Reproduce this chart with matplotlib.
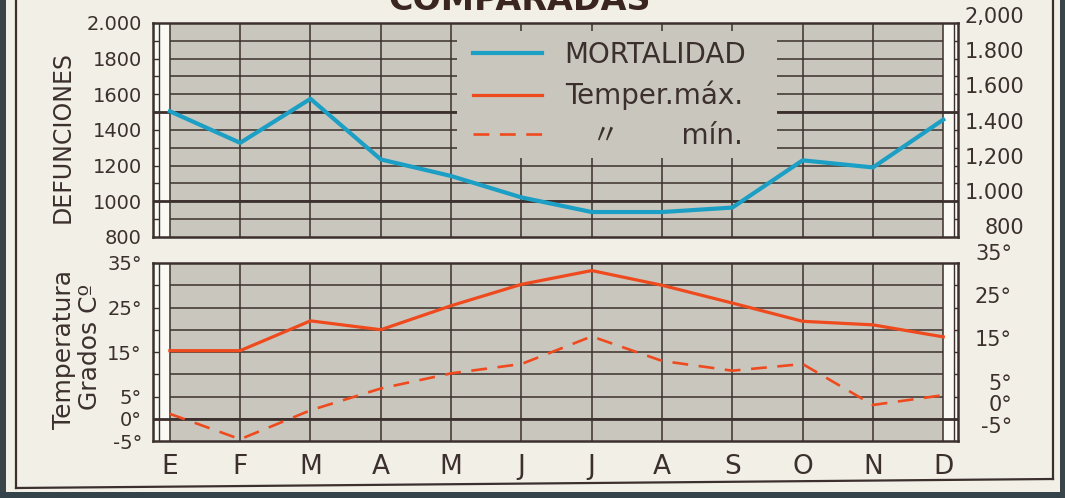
import matplotlib
matplotlib.use("Agg")
import numpy as np
import matplotlib.pyplot as plt
from matplotlib.lines import Line2D
from matplotlib.patches import Rectangle
from matplotlib.transforms import blended_transform_factory
from matplotlib.font_manager import FontProperties

# data
months = ["E", "F", "M", "A", "M", "J", "J", "A", "S", "O", "N", "D"]
mortalidad = [1505, 1328, 1575, 1235, 1142, 1022, 940, 940, 965, 1230, 1190, 1458]
temp_max = [15.3, 15.3, 22.0, 20.0, 25.4, 30.2, 33.3, 30.0, 26.0, 21.9, 21.1, 18.4]
temp_min = [1.1, -4.6, 1.9, 6.8, 10.2, 12.3, 18.5, 13.0, 10.8, 12.3, 3.1, 5.3]

def_ticks = [800, 1000, 1200, 1400, 1600, 1800, 2000]
def_left = ["800", "1000", "1200", "1400", "1600", "1800", "2.000"]
def_right = ["800", "1.000", "1,200", "1.400", "1.600", "1.800", "2,000"]
temp_ticks = [-5, 0, 5, 15, 25, 35]
temp_labels = ["-5°", "0°", "5°", "15°", "25°", "35°"]

PAPER = "#f2efe6"
GRAY = "#c9c6be"
STRIP = "#faf9f3"
INK = "#3b302d"
BLUE = "#1c9fc4"
RED = "#ef4a1e"

plt.rcParams["font.family"] = ["DejaVu Sans", "Noto Sans CJK JP"]

fig = plt.figure(figsize=(10.65, 4.98), dpi=100, facecolor=PAPER)
W, H = 1065.0, 498.0

def px(x0, y0, x1, y1):
    return [x0 / W, 1 - y1 / H, (x1 - x0) / W, (y1 - y0) / H]

ax1 = fig.add_axes(px(153, 23, 958, 237))
ax2 = fig.add_axes(px(153, 263, 958, 441))

def panel(ax, lo, hi, step, thick):
    ax.set_xlim(-0.24, 11.21)
    ax.set_ylim(lo, hi)
    ax.set_facecolor(STRIP)
    ax.axvspan(0, 11, color=GRAY, zorder=0, lw=0)
    levels = np.arange(lo + step, hi, step)
    ax.hlines(levels, 0, 11, color=INK, lw=1.1, zorder=1)
    ax.hlines(thick, -0.24, 11.21, color=INK, lw=2.0, zorder=1)
    ax.vlines(range(12), lo, hi, color=INK, lw=1.1, zorder=1)
    ax.hlines(levels, -0.24, -0.16, color=INK, lw=1.0, zorder=1)
    ax.vlines(-0.16, lo, hi, color=INK, lw=1.0, zorder=1)
    ax.hlines(levels, 11.15, 11.21, color=INK, lw=1.0, zorder=1)
    ax.vlines(11.15, lo, hi, color=INK, lw=1.0, zorder=1)
    for s in ax.spines.values():
        s.set_color(INK)
        s.set_linewidth(1.8)
    ax.tick_params(length=0, colors=INK)

panel(ax1, 800, 2000, 100, [1000, 1500])
panel(ax2, -5, 35, 5, [0])

# legend area: gridlines are blanked there
ax1.add_patch(Rectangle((4.09, 1243), 8.63 - 4.09, 1955 - 1243,
                        facecolor=GRAY, edgecolor="none", zorder=2))

l1, = ax1.plot(range(12), mortalidad, color=BLUE, lw=3.0, zorder=4)
l2, = ax2.plot(range(12), temp_max, color=RED, lw=2.3, zorder=4)
l3, = ax2.plot(range(12), temp_min, color=RED, lw=1.9, ls=(0, (6, 4)), zorder=4)

ax1.set_xticks([])
ax1.set_yticks(def_ticks)
ax1.set_yticklabels(def_left, fontsize=14, color=INK)
ax1.tick_params(axis="y", pad=8)

ax2.set_xticks(range(12))
ax2.set_xticklabels(months, fontsize=19, color=INK)
ax2.tick_params(axis="x", pad=9)
ax2.set_yticks(temp_ticks)
ax2.set_yticklabels(temp_labels, fontsize=14, color=INK)
ax2.tick_params(axis="y", pad=8)

# right-hand scales, printed slightly off the grid
tw1 = ax1.twinx()
tw1.set_ylim(749, 1966)
tw1.axis("off")
tr1 = blended_transform_factory(ax1.transAxes, tw1.transData)
for v, s in zip(def_ticks, def_right):
    ax1.text(1.082, v, s, transform=tr1, ha="right", va="center",
             fontsize=15, color=INK, clip_on=False)

tw2 = ax2.twinx()
tw2.set_ylim(-8.2, 32.85)
tw2.axis("off")
tr2 = blended_transform_factory(ax2.transAxes, tw2.transData)
for v, s in zip(temp_ticks, temp_labels):
    ax2.text(1.067, v, s, transform=tr2, ha="right", va="center",
             fontsize=15, color=INK, clip_on=False)

leg = ax1.legend([l1, l2, l3], ["MORTALIDAD", "Temper.máx.", "   〃       mín."],
                 loc="upper left", bbox_to_anchor=(0.3975, 0.915),
                 frameon=False, borderpad=0, borderaxespad=0,
                 handlelength=2.5, handletextpad=0.8, labelspacing=0.42,
                 prop=FontProperties(family=["DejaVu Sans", "Noto Sans CJK JP"], size=20))
for t in leg.get_texts():
    t.set_color(INK)
leg.set_zorder(5)

fig.text(63 / W, 1 - 137 / H, "DEFUNCIONES", rotation=90, ha="center", va="center",
         fontsize=17, color=INK)
fig.text(64 / W, 1 - 349 / H, "Temperatura", rotation=90, ha="center", va="center",
         fontsize=18, color=INK)
fig.text(90 / W, 1 - 347 / H, "Grados Cº", rotation=90, ha="center", va="center",
         fontsize=18, color=INK)

fig.text(520 / W, 1 - 10 / H, "COMPARADAS", ha="center", va="baseline",
         fontsize=24, fontweight="bold", color="#3a2520")

# paper frame and scan edges
fig.add_artist(Line2D([16 / W, 16 / W], [1, 1 - 488 / H], color=INK, lw=1.6))
fig.add_artist(Line2D([16 / W, 1053 / W], [1 - 488 / H, 1 - 479 / H], color=INK, lw=1.6))
fig.add_artist(Line2D([1053 / W, 1053 / W], [1 - 479 / H, 1], color=INK, lw=1.6))
fig.add_artist(Rectangle((0, 0), 6 / W, 1, transform=fig.transFigure,
                         facecolor="#3a4549", edgecolor="none"))
fig.add_artist(Rectangle((0, 0), 1, 6 / H, transform=fig.transFigure,
                         facecolor="#34424a", edgecolor="none"))
fig.add_artist(Rectangle((1060 / W, 0), 5 / W, 1, transform=fig.transFigure,
                         facecolor="#3a4549", edgecolor="none"))

fig.savefig("out.png", dpi=100, facecolor=PAPER)
